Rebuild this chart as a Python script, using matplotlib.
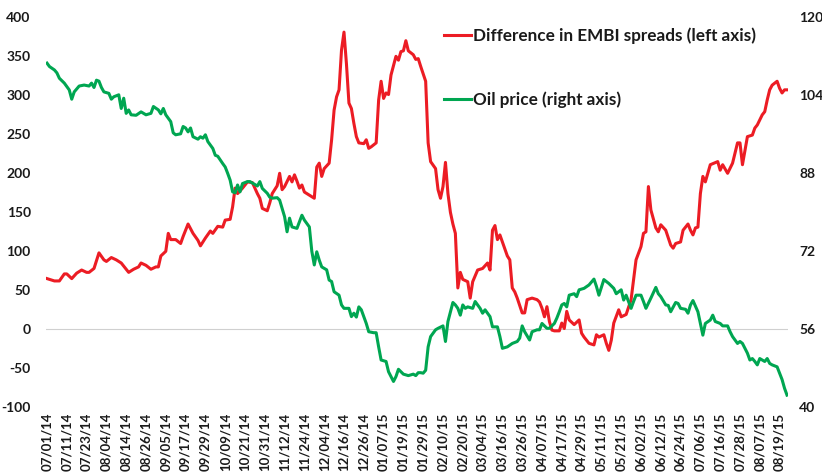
import matplotlib
matplotlib.use("Agg")
import matplotlib.pyplot as plt

# ---- data (trading-day number since 07/01/14, value) ----
red_day = [0, 3, 5, 7, 8, 10, 12, 14, 16, 17,
           19, 21, 23, 24, 26, 28, 30, 31, 33, 35,
           37, 38, 40, 42, 44, 45, 46, 48, 49, 50,
           52, 54, 55, 57, 59, 61, 62, 64, 66, 67,
           69, 71, 72, 74, 75, 76, 77, 79, 81, 83,
           85, 86, 87, 89, 90, 91, 93, 94, 95, 96,
           98, 99, 100, 101, 102, 103, 104, 106, 107, 108,
           109, 110, 111, 112, 114, 115, 116, 117, 118, 119,
           120, 121, 122, 123, 124, 125, 126, 128, 129, 130,
           131, 133, 134, 135, 136, 137, 138, 139, 141, 142,
           143, 144, 145, 146, 148, 149, 150, 151, 153, 154,
           155, 157, 158, 159, 160, 161, 162, 163, 164, 165,
           166, 167, 168, 170, 171, 172, 174, 176, 178, 179,
           180, 181, 182, 183, 184, 186, 187, 188, 189, 190,
           192, 193, 194, 196, 198, 199, 200, 201, 202, 203,
           204, 205, 207, 208, 209, 210, 211, 213, 215, 216,
           217, 219, 221, 222, 223, 225, 226, 227, 228, 229,
           231, 232, 234, 236, 237, 238, 240, 241, 242, 243,
           244, 246, 247, 248, 250, 252, 253, 254, 256, 257,
           259, 260, 261, 262, 263, 264, 265, 266, 268, 271,
           272, 273, 275, 277, 279, 280, 281, 283, 285, 286,
           287, 289, 290, 291, 292, 293, 295, 296, 297, 298,
           299]
embi_spread_diff = [65, 62, 62, 71, 71, 65, 72, 76, 73, 73,
                    78, 98, 89, 87, 92, 89, 85, 81, 73, 77,
                    80, 85, 82, 77, 80, 80, 94, 100, 123, 115,
                    115, 110, 119, 135, 123, 114, 107, 117, 126, 123,
                    132, 131, 140, 141, 157, 181, 174, 181, 189, 188,
                    174, 168, 155, 152, 162, 174, 184, 200, 179, 183,
                    196, 189, 198, 190, 181, 185, 176, 172, 170, 168,
                    208, 213, 196, 206, 213, 243, 281, 298, 307, 358,
                    381, 340, 290, 283, 264, 247, 239, 238, 243, 232,
                    234, 239, 294, 318, 296, 303, 301, 326, 350, 345,
                    356, 357, 370, 357, 352, 346, 347, 337, 318, 239,
                    215, 206, 179, 168, 183, 214, 174, 150, 135, 123,
                    53, 73, 64, 61, 40, 61, 76, 78, 85, 76,
                    127, 133, 115, 121, 112, 94, 89, 53, 48, 40,
                    21, 21, 38, 40, 38, 35, 27, 16, 29, 10,
                    -1, -2, -2, 8, 1, 23, 12, 6, 12, -5,
                    -10, -18, -20, -7, -10, -7, -18, -27, -14, 8,
                    25, 16, 19, 38, 63, 89, 106, 123, 125, 183,
                    153, 130, 125, 134, 127, 108, 104, 110, 112, 127,
                    135, 127, 121, 130, 131, 174, 196, 189, 211, 215,
                    204, 211, 200, 213, 239, 239, 211, 247, 249, 258,
                    262, 275, 279, 294, 307, 313, 318, 309, 303, 307,
                    307]

oil_day = [0, 1, 3, 4, 5, 7, 8, 9, 10, 11,
           13, 15, 17, 18, 19, 20, 21, 22, 23, 25,
           26, 27, 29, 30, 31, 32, 33, 34, 36, 38,
           39, 40, 42, 43, 45, 46, 47, 48, 50, 51,
           52, 54, 55, 56, 57, 58, 59, 61, 62, 63,
           64, 65, 67, 68, 69, 71, 72, 73, 74, 75,
           76, 77, 78, 79, 81, 82, 83, 85, 86, 87,
           89, 90, 91, 93, 94, 95, 96, 97, 98, 99,
           101, 103, 104, 106, 107, 108, 109, 110, 111, 113,
           114, 115, 116, 118, 119, 120, 122, 123, 124, 125,
           126, 127, 128, 129, 130, 132, 133, 134, 135, 137,
           138, 140, 141, 142, 143, 144, 146, 148, 149, 150,
           151, 152, 153, 154, 155, 157, 158, 160, 161, 162,
           164, 165, 166, 167, 168, 169, 170, 172, 173, 174,
           175, 176, 177, 179, 180, 182, 183, 184, 186, 188,
           190, 191, 192, 193, 195, 196, 198, 199, 200, 202,
           203, 205, 206, 207, 208, 209, 210, 211, 213, 214,
           215, 217, 219, 221, 222, 223, 225, 227, 229, 230,
           232, 233, 234, 236, 237, 238, 240, 241, 242, 244,
           246, 247, 248, 250, 251, 252, 254, 255, 256, 258,
           259, 260, 261, 263, 264, 265, 266, 268, 269, 270,
           272, 273, 275, 276, 277, 279, 280, 281, 283, 284,
           285, 286, 287, 288, 290, 291, 292, 293, 295, 296,
           297, 298, 299]
oil_price = [110.6, 109.9, 109.2, 108.6, 107.5, 106.5, 105.8, 105.1, 103.2, 104.7,
             105.9, 106.1, 105.9, 106.5, 105.6, 107.1, 106.9, 105.6, 104.7, 104.4,
             103.2, 103.7, 104.1, 101.3, 103.4, 100.3, 101.0, 100.0, 99.9, 100.6,
             100.3, 100.0, 100.3, 101.7, 101.0, 100.2, 101.3, 100.0, 98.6, 96.3,
             95.9, 96.1, 97.6, 97.3, 96.5, 97.3, 95.5, 95.0, 95.5, 95.2,
             95.9, 94.5, 93.1, 91.7, 91.5, 90.0, 89.3, 88.0, 86.6, 84.2,
             84.0, 85.6, 84.2, 85.9, 86.3, 86.3, 86.0, 85.4, 86.3, 84.9,
             83.9, 83.1, 82.9, 83.0, 82.5, 80.8, 79.1, 76.0, 78.8, 77.0,
             76.7, 79.4, 78.4, 77.0, 72.0, 69.2, 71.9, 70.2, 68.8, 68.2,
             66.1, 65.8, 63.7, 63.0, 61.0, 60.3, 60.3, 58.6, 59.3, 58.5,
             60.6, 60.0, 58.6, 57.2, 55.5, 55.3, 55.3, 52.4, 49.7, 49.4,
             47.3, 45.3, 46.3, 47.8, 47.3, 46.8, 46.5, 46.8, 46.5, 47.1,
             47.1, 47.0, 47.6, 52.4, 54.5, 55.9, 56.2, 56.7, 53.5, 57.6,
             61.5, 61.0, 60.3, 58.9, 61.0, 60.3, 60.6, 60.3, 61.7, 61.0,
             60.3, 59.3, 60.0, 58.6, 56.5, 56.5, 54.5, 52.1, 52.4, 53.1,
             53.5, 54.2, 56.7, 55.5, 53.8, 55.5, 55.9, 55.9, 57.2, 56.2,
             56.2, 57.2, 58.3, 59.6, 61.0, 61.3, 60.6, 63.0, 63.3, 62.7,
             64.1, 64.4, 65.1, 66.3, 64.8, 63.0, 66.2, 65.4, 64.4, 63.3,
             64.1, 62.0, 63.0, 60.3, 61.7, 63.0, 63.0, 61.7, 60.3, 62.4,
             64.6, 63.3, 62.7, 61.0, 60.9, 59.6, 61.5, 61.3, 60.3, 60.1,
             59.3, 61.0, 61.9, 59.6, 57.2, 54.8, 57.2, 57.9, 58.9, 57.6,
             57.2, 56.7, 56.7, 55.5, 54.5, 53.1, 53.5, 53.1, 51.1, 49.7,
             50.0, 49.4, 48.7, 50.0, 49.4, 50.0, 49.0, 48.7, 48.3, 47.0,
             45.7, 43.9, 42.5]

tick_day = list(range(0, 297, 8))
tick_labels = ["07/01/14", "07/11/14", "07/23/14", "08/04/14", "08/14/14", "08/26/14",
               "09/05/14", "09/17/14", "09/29/14", "10/09/14", "10/21/14", "10/31/14",
               "11/12/14", "11/24/14", "12/04/14", "12/16/14", "12/26/14", "01/07/15",
               "01/19/15", "01/29/15", "02/10/15", "02/20/15", "03/04/15", "03/16/15",
               "03/26/15", "04/07/15", "04/17/15", "04/29/15", "05/11/15", "05/21/15",
               "06/02/15", "06/12/15", "06/24/15", "07/06/15", "07/16/15", "07/28/15",
               "08/07/15", "08/19/15"]
left_ticks = [-100, -50, 0, 50, 100, 150, 200, 250, 300, 350, 400]
right_ticks = [40, 56, 72, 88, 104, 120]
labels = ["Difference in EMBI spreads (left axis)", "Oil price (right axis)"]

assert len(red_day) == len(embi_spread_diff)
assert len(oil_day) == len(oil_price)

# ---- style ----
FONT = "Lato"
RED = "#EC1C24"
GREEN = "#00A651"
TXT = "#1a1a1a"

W, H = 822, 472
fig = plt.figure(figsize=(W / 100, H / 100), dpi=100)
x0, x1 = 46, 788
ytop, ybot = 17.3, 407.3
ax = fig.add_axes([x0 / W, 1 - ybot / H, (x1 - x0) / W, (ybot - ytop) / H])
ax2 = ax.twinx()

l1, = ax.plot(red_day, embi_spread_diff, color=RED, lw=2.2, solid_joinstyle="round")
l2, = ax2.plot(oil_day, oil_price, color=GREEN, lw=2.2, solid_joinstyle="round")

ax.set_xlim(-0.4, 299.4)
ax.set_ylim(-100, 400)
ax2.set_ylim(40, 120)
ax.axhline(0, color="#d0d0d0", lw=0.8, zorder=0)

for a in (ax, ax2):
    for s in a.spines.values():
        s.set_visible(False)

ax.set_yticks(left_ticks)
ax.set_yticklabels([str(v) for v in left_ticks])
ax2.set_yticks(right_ticks)
ax2.set_yticklabels([str(v) for v in right_ticks])
ax.set_xticks(tick_day)
ax.set_xticklabels(tick_labels, rotation=90)

ax.tick_params(axis="y", length=0, pad=11, labelsize=10, labelcolor=TXT)
ax2.tick_params(axis="y", length=0, pad=8, labelsize=10, labelcolor=TXT)
ax.tick_params(axis="x", length=0, pad=4, labelsize=9.5, labelcolor=TXT)
for t in ax.get_yticklabels() + ax2.get_yticklabels() + ax.get_xticklabels():
    t.set_fontfamily(FONT)
    t.set_fontweight("bold")

leg = fig.legend([l1, l2], labels, loc="upper left",
                 bbox_to_anchor=(444 / W, 1 - 27 / H), bbox_transform=fig.transFigure,
                 frameon=False, borderpad=0, borderaxespad=0,
                 handlelength=1.6, handletextpad=0.12, labelspacing=2.8,
                 prop={"family": FONT, "weight": "bold", "size": 12.3})
for t in leg.get_texts():
    t.set_color(TXT)

fig.savefig("out.png", dpi=100)
